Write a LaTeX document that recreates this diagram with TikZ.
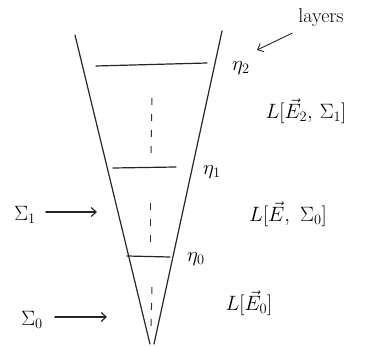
\documentclass[tikz,border=0pt]{standalone}
\usetikzlibrary{arrows.meta}
\begin{document}
\begin{tikzpicture}[x=1pt,y=-1pt,
  pen/.style={line width=1.2pt,line cap=round,black!85},
  dashline/.style={line width=1pt,black!80,dash pattern=on 7pt off 9pt},
  lbl/.style={inner sep=0pt,font=\fontsize{22}{24}\selectfont},
  small/.style={inner sep=0pt,font=\fontsize{20}{22}\selectfont},
  arr/.style={pen,-{Straight Barb[length=5pt,width=9pt]}}]
\useasboundingbox (0,0) rectangle (385,347);
% cone
\coordinate (lt) at (75,35);
\coordinate (lb) at (150,344);
\coordinate (rt) at (222,31);
\coordinate (rb) at (154,344);
\draw[pen] (lt) -- (lb);
\draw[pen] (rt) -- (rb);
% layer lines
\coordinate (a2) at (96,66);  \coordinate (b2) at (207,63);
\coordinate (a1) at (113,168); \coordinate (b1) at (176,167);
\coordinate (a0) at (127,256); \coordinate (b0) at (170,257);
\draw[pen] (a2) -- (b2);
\draw[pen] (a1) -- (b1);
\draw[pen] (a0) -- (b0);
% dashed centre
\coordinate (d2a) at (152,98); \coordinate (d2b) at (151,158);
\coordinate (d1a) at (150,203); \coordinate (d1b) at (150,242);
\coordinate (d0a) at (152,287); \coordinate (d0b) at (151,326);
\draw[dashline] (d2a) -- (d2b);
\draw[dashline] (d1a) -- (d1b);
\draw[dashline] (d0a) -- (d0b);
% eta labels
\node[small] (eta2) at (241,68) {$\eta_2$};
\node[small] (eta1) at (212,172) {$\eta_1$};
\node[small] (eta0) at (196,259) {$\eta_0$};
% layers
\node[small] (layers) at (321,18) {layers};
\coordinate (lay) at (257,50);
\draw[arr,line width=0.9pt] (layers.south west) ++(-6,6) -- (lay);
% L labels
\node[lbl] (L2) at (306,111) {$L[\vec{E}_{2},\,\Sigma_1]$};
\node[lbl] (L1) at (288,214) {$L[\vec{E},\ \Sigma_0]$};
\node[lbl] (L0) at (249,303) {$L[\vec{E}_0]$};
% Sigma labels
\node[lbl] (S1) at (25,215) {$\Sigma_1$};
\node[lbl] (S0) at (32,320) {$\Sigma_0$};
\coordinate (s1e) at (97,212);
\coordinate (s0e) at (107,317);
\draw[arr] (S1.east) ++(10,-3) -- (s1e);
\draw[arr] (S0.east) ++(12,-3) -- (s0e);
\end{tikzpicture}
\end{document}
